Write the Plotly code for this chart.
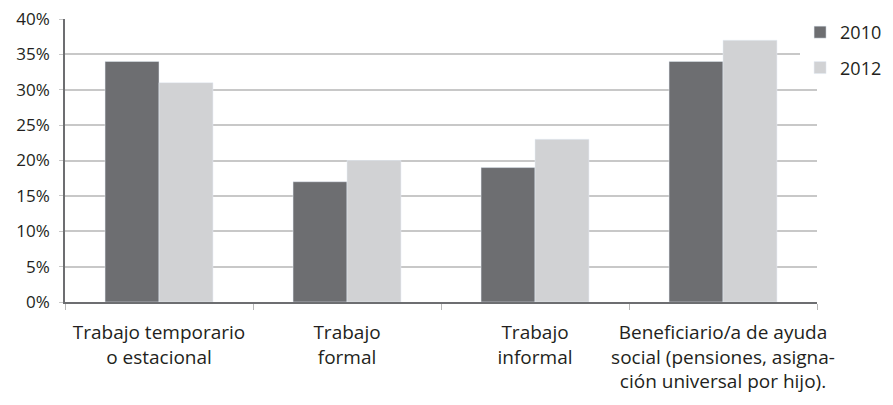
import plotly.graph_objects as go

categories = [
    "Trabajo temporario<br>o estacional",
    "Trabajo<br>formal",
    "Trabajo<br>informal",
    "Beneficiario/a de ayuda<br>social (pensiones, asigna-<br>ción universal por hijo).",
]
series_2010 = [34, 17, 19, 34]
series_2012 = [31, 20, 23, 37]
y_ticks = [0, 5, 10, 15, 20, 25, 30, 35, 40]
y_tick_labels = [f"{v}%" for v in y_ticks]

font_family = "Open Sans, sans-serif"

fig = go.Figure()
fig.add_trace(go.Bar(name="2010", x=categories, y=series_2010, marker_color="#6d6e71",
                     legendgroup="a"))
fig.add_trace(go.Bar(name="2012", x=categories, y=series_2012, marker_color="#d1d2d4",
                     legendgroup="b"))

fig.update_layout(
    width=885, height=397,
    margin=dict(l=57, r=76, t=11, b=103, autoexpand=False),
    paper_bgcolor="white", plot_bgcolor="white",
    barmode="group", bargap=0.426, bargroupgap=0,
    font=dict(family=font_family, size=18, color="#231f20"),
    legend=dict(xref="container", yref="container", x=0.895, y=0.985,
                xanchor="left", yanchor="top",
                font=dict(size=18), itemwidth=30, tracegroupgap=9,
                traceorder="grouped"),
    xaxis=dict(
        showline=True, linecolor="#6d6e71", linewidth=2,
        tickson="boundaries", ticks="outside", ticklen=6, tickcolor="#b8b8b8",
        showgrid=False, tickfont=dict(size=19), tickangle=0, automargin=False,
        ticklabelstandoff=12,
    ),
    yaxis=dict(
        range=[0, 40], tickvals=y_ticks, ticktext=y_tick_labels,
        showline=True, linecolor="#6d6e71", linewidth=1.5,
        ticks="outside", ticklen=4, tickcolor="#c8c8c8",
        showgrid=True, gridcolor="#c8c8c8", gridwidth=1.5,
        zeroline=False, tickfont=dict(size=17), automargin=False,
        ticklabelstandoff=6, ticklabeloverflow="allow",
    ),
)

fig.write_html("out.html")
